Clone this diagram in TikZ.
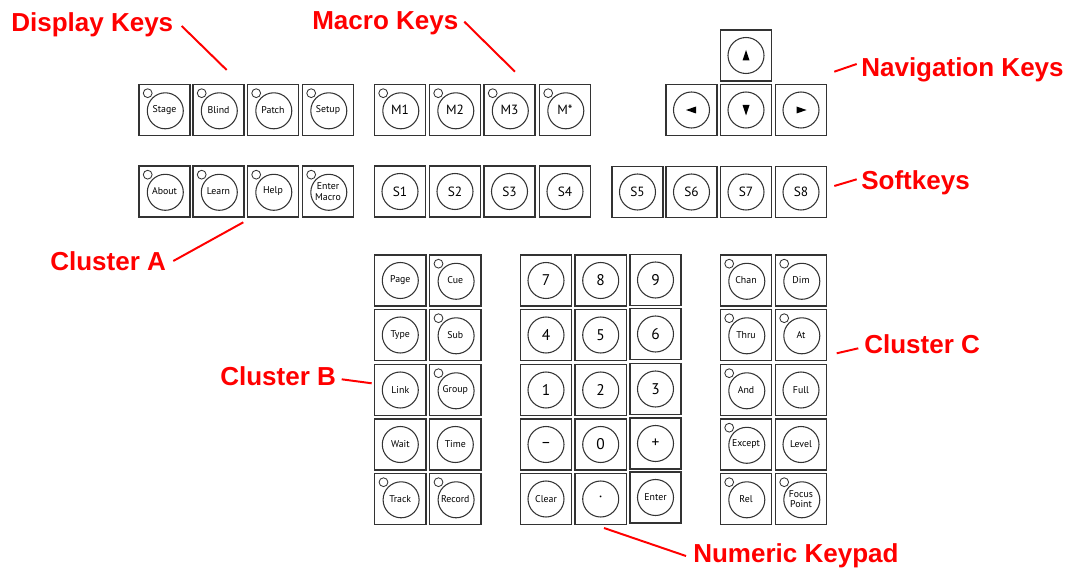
\documentclass[tikz,border=0pt]{standalone}
\usepackage{fontspec}
\setmainfont{Liberation Sans}
\newfontfamily\keyfont{PT Sans}
\usetikzlibrary{calc}
\definecolor{keyline}{HTML}{333333}
\definecolor{callred}{HTML}{FF0000}
\tikzset{
  key/.style={draw=keyline, line width=1pt, minimum size=1.28cm, inner sep=0pt, align=center,
    font=\keyfont\fontsize{7}{7.5}\selectfont,
    path picture={\draw[keyline, line width=0.75pt] (path picture bounding box.center) circle (0.45cm);}},
  keyled/.style={key, path picture={
    \draw[keyline, line width=0.75pt] ($(path picture bounding box.center)+(0.02cm,-0.02cm)$) circle (0.45cm);
    \draw[keyline, line width=0.6pt, fill=white] ($(path picture bounding box.north west)+(0.22cm,-0.22cm)$) circle (0.11cm);}},
  bigkey/.style={font=\keyfont\fontsize{9.5}{10}\selectfont},
  digit/.style={font=\keyfont\fontsize{11}{12}\selectfont},
  callout/.style={text=callred, font=\bfseries\fontsize{18.5}{20}\selectfont, inner sep=0pt, anchor=base west},
  leader/.style={draw=callred, line width=1.4pt},
}
\begin{document}
\begin{tikzpicture}[x=0.025cm, y=-0.025cm]
  \useasboundingbox (0,0) rectangle (1073,571);
  % display keys and cluster A
  \node[keyled] (kStage) at (164.5,110) {Stage};
  \node[keyled] (kBlind) at (218.5,110) {Blind};
  \node[keyled] (kPatch) at (273,110) {Patch};
  \node[keyled] (kSetup) at (328,110) {Setup};
  \node[keyled] (kAbout) at (164.5,191.5) {About};
  \node[keyled] (kLearn) at (218.5,191.5) {Learn};
  \node[keyled] (kHelp) at (273,191.5) {Help};
  \node[keyled] (kEnterMacro) at (328,191.5) {Enter\\Macro};
  % macro keys and softkeys
  \node[keyled, bigkey] (kM1) at (400,110) {M1};
  \node[keyled, bigkey] (kM2) at (455,110) {M2};
  \node[keyled, bigkey] (kM3) at (509.5,110) {M3};
  \node[keyled, bigkey] (kMstar) at (565,110) {M*};
  \node[key, bigkey] (kS1) at (400,191.5) {S1};
  \node[key, bigkey] (kS2) at (455,191.5) {S2};
  \node[key, bigkey] (kS3) at (509.5,191.5) {S3};
  \node[key, bigkey] (kS4) at (565,191.5) {S4};
  \node[key, bigkey] (kS5) at (637.5,192) {S5};
  \node[key, bigkey] (kS6) at (691.5,192) {S6};
  \node[key, bigkey] (kS7) at (746,192) {S7};
  \node[key, bigkey] (kS8) at (801,192) {S8};
  % navigation keys
  \node[key] (kUp) at (746,55.5) {};
  \node[key] (kLeft) at (691.5,110) {};
  \node[key] (kDown) at (746,110) {};
  \node[key] (kRight) at (801,110) {};
  \fill[black] ($(kUp)+(0,-5.5)$) -- ($(kUp)+(3.5,5)$) -- ($(kUp)+(-3.5,5)$) -- cycle;
  \fill[black] ($(kDown)+(0,5.5)$) -- ($(kDown)+(3.5,-5)$) -- ($(kDown)+(-3.5,-5)$) -- cycle;
  \fill[black] ($(kLeft)+(-5.5,0)$) -- ($(kLeft)+(4.5,-3.5)$) -- ($(kLeft)+(4.5,3.5)$) -- cycle;
  \fill[black] ($(kRight)+(5.5,0)$) -- ($(kRight)+(-4.5,-3.5)$) -- ($(kRight)+(-4.5,3.5)$) -- cycle;
  % cluster B
  \node[key] (kPage) at (400.3,280.5) {Page};
  \node[key] (kType) at (400.3,335) {Type};
  \node[key] (kLink) at (400.3,390) {Link};
  \node[key] (kWait) at (400.3,444.5) {Wait};
  \node[keyled] (kTrack) at (400.3,499) {Track};
  \node[keyled] (kCue) at (455.3,280.5) {Cue};
  \node[keyled] (kSub) at (455.3,335) {Sub};
  \node[keyled] (kGroup) at (455.3,390) {Group};
  \node[key] (kTime) at (455.3,444.5) {Time};
  \node[keyled] (kRecord) at (455.3,499) {Record};
  % numeric keypad
  \node[key, digit] (k7) at (546,280.5) {7};
  \node[key, digit] (k8) at (600.7,280.5) {8};
  \node[key, digit] (k9) at (655.5,280) {9};
  \node[key, digit] (k4) at (546,335) {4};
  \node[key, digit] (k5) at (600.7,335) {5};
  \node[key, digit] (k6) at (655.5,334) {6};
  \node[key, digit] (k1) at (546,390) {1};
  \node[key, digit] (k2) at (600.7,390) {2};
  \node[key, digit] (k3) at (655.5,389) {3};
  \node[key, digit] (kMinus) at (546,444.5) {–};
  \node[key, digit] (k0) at (600.7,444.5) {0};
  \node[key, digit] (kPlus) at (655.5,443.5) {+};
  \node[key] (kClear) at (546,499) {Clear};
  \node[key, digit] (kDot) at (600.7,499) {·};
  \node[key] (kEnter) at (655.5,497.5) {Enter};
  % cluster C
  \node[keyled] (kChan) at (746,280.5) {Chan};
  \node[keyled] (kThru) at (746,335) {Thru};
  \node[keyled] (kAnd) at (746,390) {And};
  \node[keyled] (kExcept) at (746,444.5) {Except};
  \node[keyled] (kRel) at (746,499) {Rel};
  \node[keyled] (kDim) at (801,280.5) {Dim};
  \node[keyled] (kAt) at (801,335) {At};
  \node[key] (kFull) at (801,390) {Full};
  \node[key] (kLevel) at (801,444.5) {Level};
  \node[keyled] (kFocus) at (801,499) {Focus\\Point};
  % callouts
  \node[callout] (lDisplay) at (11,32) {Display Keys};
  \node[callout] (lMacro) at (312,30) {Macro Keys};
  \node[callout] (lNav) at (861,76.5) {Navigation Keys};
  \node[callout] (lSoft) at (861,190) {Softkeys};
  \node[callout] (lClusterA) at (50,270) {Cluster A};
  \node[callout] (lClusterB) at (220,385) {Cluster B};
  \node[callout] (lClusterC) at (864,353) {Cluster C};
  \node[callout] (lKeypad) at (693,562) {Numeric Keypad};
  \coordinate (dispA) at (181.7,26);   \coordinate (dispB) at (226.7,70);
  \coordinate (macA) at (464.3,21.7);  \coordinate (macB) at (515,71.7);
  \coordinate (navA) at (856.7,64);    \coordinate (navB) at (834.3,71.7);
  \coordinate (softA) at (856.7,179.3); \coordinate (softB) at (834.3,186);
  \coordinate (cla) at (173.3,261);    \coordinate (clb) at (243.3,222.3);
  \coordinate (clbA) at (341.7,379.3); \coordinate (clbB) at (371.7,383.3);
  \coordinate (clcA) at (858.3,348.3); \coordinate (clcB) at (836.7,353.3);
  \coordinate (padA) at (686,556);     \coordinate (padB) at (604,528);
  \draw[leader] (dispA) -- (dispB);
  \draw[leader] (macA) -- (macB);
  \draw[leader] (navA) -- (navB);
  \draw[leader] (softA) -- (softB);
  \draw[leader] (cla) -- (clb);
  \draw[leader] (clbA) -- (clbB);
  \draw[leader] (clcA) -- (clcB);
  \draw[leader] (padA) -- (padB);
\end{tikzpicture}
\end{document}
